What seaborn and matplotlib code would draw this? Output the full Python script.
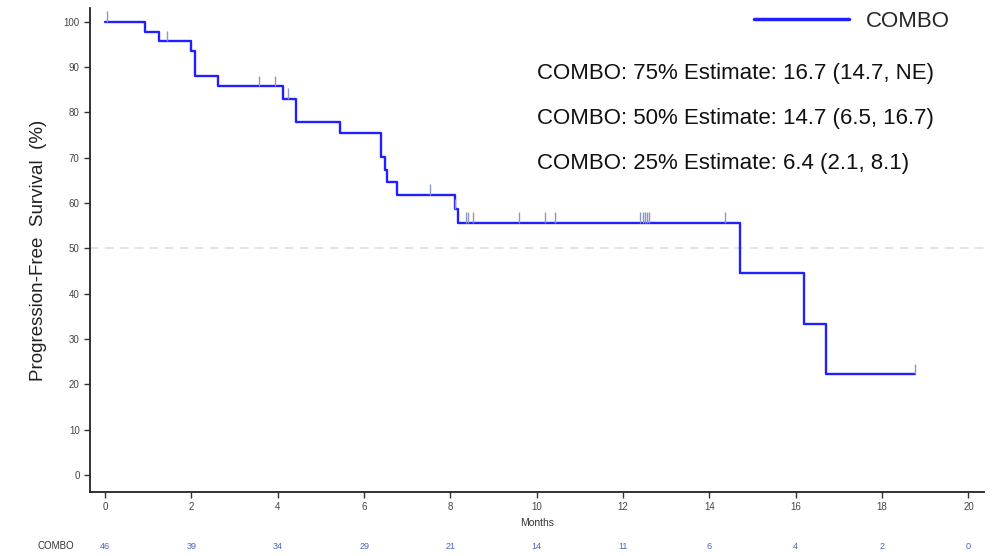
import numpy as np
import pandas as pd
import matplotlib
matplotlib.use('Agg')
import matplotlib.pyplot as plt
import seaborn as sns

# Kaplan-Meier step values
times = [0, 0.93, 1.24, 1.98, 2.09, 2.61, 4.12, 4.42, 5.45, 6.39, 6.49, 6.54,
         6.76, 8.11, 8.17, 14.7, 16.2, 16.69, 18.77]
surv = [100, 97.8, 95.7, 93.5, 88.0, 85.8, 83.0, 77.9, 75.4, 70.1, 67.4, 64.6,
        61.9, 58.7, 55.7, 44.5, 33.4, 22.3, 22.3]

# censoring times
censor_times = [0.04, 1.44, 3.57, 3.94, 4.24, 7.53, 8.11, 8.37, 8.41, 8.52,
                9.58, 10.2, 10.43, 12.4, 12.45, 12.5, 12.55, 12.61, 14.37, 18.77]

# numbers at risk
risk_months = [0, 2, 4, 6, 8, 10, 12, 14, 16, 18, 20]
risk_counts = [46, 39, 34, 29, 21, 14, 11, 6, 4, 2, 0]

estimates = [
    "COMBO: 75% Estimate: 16.7 (14.7, NE)",
    "COMBO: 50% Estimate: 14.7 (6.5, 16.7)",
    "COMBO: 25% Estimate: 6.4 (2.1, 8.1)",
]

sns.set_theme(style="ticks")
plt.rcParams['font.family'] = ['Liberation Sans', 'DejaVu Sans']

df = pd.DataFrame({'Months': times, 'Survival': surv})

fig = plt.figure(figsize=(9.95, 5.56), dpi=100)
ax = fig.add_axes([0.0905, 0.115, 0.898, 0.871])

blue = '#1f1fff'
sns.lineplot(data=df, x='Months', y='Survival', ax=ax, color=blue, lw=1.7,
             drawstyle='steps-post', estimator=None, sort=False, label='COMBO')

# censor marks sit on the curve and point upward
cens_y = [surv[np.searchsorted(times, t, side='right') - 1] for t in censor_times]
ax.vlines(censor_times, cens_y, np.array(cens_y) + 2.3, color='#8c96c8', lw=1)

ax.axhline(50, color='#dedede', lw=1.2, ls=(0, (5, 4)), zorder=0)

ax.set_xlim(-0.35, 20.35)
ax.set_ylim(-3.75, 103.1)
ax.set_xticks(range(0, 21, 2))
ax.set_yticks(range(0, 101, 10))
ax.tick_params(axis='both', labelsize=7, labelcolor='#444444', color='#333333',
               length=4, width=1)
for s in ['top', 'right']:
    ax.spines[s].set_visible(False)
for s in ['left', 'bottom']:
    ax.spines[s].set_color('#222222')
    ax.spines[s].set_linewidth(1.3)

ax.set_xlabel('Months', fontsize=7.5, color='#333333', labelpad=4)
ax.set_ylabel('Progression-Free  Survival  (%)', fontsize=13.5, color='#222222',
              labelpad=12)

leg = ax.legend(loc='upper right', bbox_to_anchor=(0.985, 1.035), frameon=False,
                fontsize=16, handlelength=4.3, handletextpad=0.75)
for line in leg.get_lines():
    line.set_linewidth(2.5)

for i, txt in enumerate(estimates):
    ax.text(0.500, 0.865 - i * 0.093, txt, transform=ax.transAxes, fontsize=16,
            color='#111111', va='center', ha='left')

trans = ax.get_xaxis_transform()
for m, c in zip(risk_months, risk_counts):
    ax.text(m, -0.1116, str(c), transform=trans, fontsize=6.5, color='#4a66c4',
            ha='center', va='center')
ax.text(-1.15, -0.1116, 'COMBO', transform=trans, fontsize=7, color='#333333',
        ha='center', va='center')

fig.savefig('out.png', dpi=100)
